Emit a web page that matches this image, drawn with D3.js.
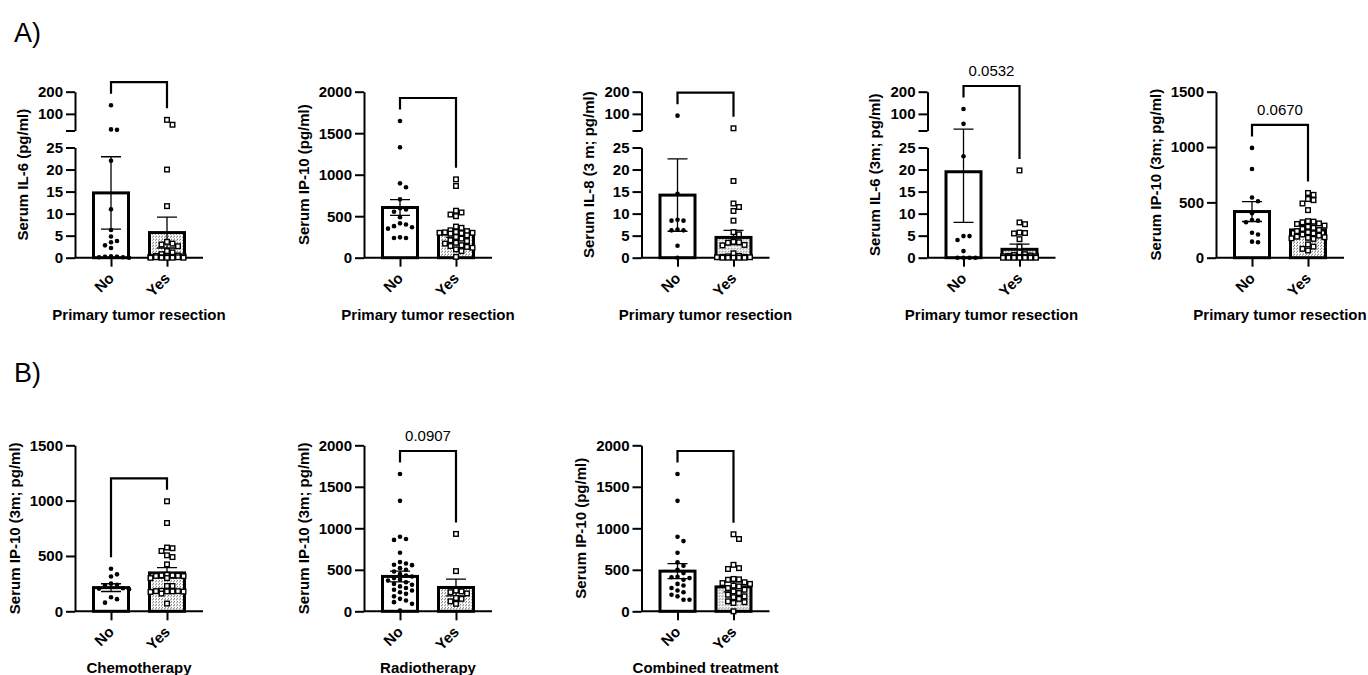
<!DOCTYPE html>
<meta charset="utf-8">
<style>
body { margin: 0; background: #fff; }
svg { font-family: "Liberation Sans", Arial, sans-serif; }
.axis text { font: bold 15px "Liberation Sans", Arial, sans-serif; fill: #000; }
.axis path, .axis line { fill: none; stroke: #000; stroke-width: 2px; }
.ylab, .xtitle { font: bold 15px "Liberation Sans", Arial, sans-serif; }
.pval { font: 15px "Liberation Sans", Arial, sans-serif; }
.bar { stroke: #000; stroke-width: 3px; }
.err { stroke: #000; stroke-width: 1.3px; fill: none; }
.bracket { stroke: #000; stroke-width: 2.2px; fill: none; }
</style>
<body>
<div id="chart"></div>
<script src="https://cdnjs.cloudflare.com/ajax/libs/d3/7.8.5/d3.min.js"></script>
<script>

// groups on every x axis
var groups = ["No", "Yes"];

// y tick values
var ticksBrokenLow = [0, 5, 10, 15, 20, 25];
var ticksBrokenHigh = [25, 100, 200];
var ticks2000 = [0, 500, 1000, 1500, 2000];
var ticks1500 = [0, 500, 1000, 1500];

// A) serum IL-6, primary tumor resection
var il6_no = [139, 30, 28, 22, 11, 6.3, 4.8, 3.8, 3.5, 2.8, 2.2, 0.3, 0.2, 0.2, 0.1, 0.1, 0];
var il6_yes = [73, 51, 20, 11.7, 3.6, 3.2, 3.0, 2.6, 1.5, 1.2, 0.8, 0.5, 0.4, 0.3, 0.3, 0.2, 0.2, 0.1, 0.1, 0.1, 0, 0, 0, 0, 0];
var il6_mean = [14.7, 5.7];
var il6_sem = [8.2, 3.5];

// serum IP-10
var ip10_no = [1647, 1330, 896, 848, 703, 595, 580, 554, 487, 414, 400, 380, 366, 350, 245, 237, 237];
var ip10_yes = [944, 864, 566, 545, 520, 500, 375, 360, 330, 320, 310, 305, 300, 300, 295, 290, 270, 250, 230, 210, 200, 180, 170, 150, 140, 130, 120, 100, 80, 10];
var ip10_mean = [605, 285];
var ip10_sem = [95, 40];

// serum IL-8 (3 m)
var il8m3_no = [92, 14.5, 8.6, 8.4, 8.4, 6.4, 6.2, 6.2, 2.7, 0];
var il8m3_yes = [35, 17.4, 12.3, 11.5, 10.6, 8.4, 5.8, 5.3, 3.6, 3.5, 3.4, 2.9, 2.8, 1.0, 0.4, 0.3, 0.2, 0.2, 0.1, 0.1, 0, 0, 0, 0, 0];
var il8m3_mean = [14.2, 4.6];
var il8m3_sem = [8.2, 1.6];

// serum IL-6 (3m)
var il6m3_no = [122, 55, 23, 4.9, 4.9, 4.0, 1.5, 0, 0, 0, 0];
var il6m3_yes = [19.8, 8.0, 7.6, 5.7, 5.6, 5.5, 4.2, 2.5, 1.2, 0.8, 0.6, 0.5, 0.4, 0.3, 0.3, 0.2, 0.2, 0.1, 0.1, 0.1, 0, 0, 0, 0, 0, 0, 0];
var il6m3_mean = [19.5, 1.9];
var il6m3_sem = [11.5, 1.2];

// serum IP-10 (3m)
var ip10m3_no = [992, 801, 544, 510, 402, 340, 335, 320, 225, 210, 145, 140];
var ip10m3_yes = [585, 568, 530, 520, 490, 430, 330, 326, 320, 310, 305, 290, 280, 270, 260, 250, 240, 230, 220, 210, 200, 190, 185, 180, 175, 170, 120, 100, 80, 65];
var ip10m3_mean = [417, 251];
var ip10m3_sem = [90, 42];

// B) chemotherapy, IP-10 (3m)
var chemo_no = [385, 334, 315, 250, 240, 230, 208, 205, 200, 127, 110, 78];
var chemo_yes = [994, 798, 576, 570, 545, 506, 490, 424, 330, 325, 325, 322, 320, 318, 300, 300, 229, 229, 185, 182, 182, 180, 180, 178, 175, 160, 70];
var chemo_mean = [214, 347];
var chemo_sem = [35, 47];

// radiotherapy, IP-10 (3m)
var radio_no = [1654, 1331, 899, 871, 860, 705, 593, 575, 560, 556, 520, 500, 480, 450, 430, 420, 400, 380, 370, 350, 330, 320, 300, 280, 260, 250, 230, 210, 180, 150, 130, 110, 90, 10];
var radio_yes = [932, 484, 250, 240, 230, 215, 160, 150, 120, 90];
var radio_mean = [420, 287];
var radio_sem = [65, 100];

// combined treatment, IP-10
var comb_no = [1654, 1331, 899, 846, 705, 590, 548, 500, 460, 415, 410, 400, 380, 330, 310, 280, 250, 230, 200, 180, 140, 140];
var comb_yes = [928, 871, 560, 520, 510, 390, 385, 380, 350, 340, 330, 310, 300, 280, 260, 240, 220, 200, 180, 170, 150, 120, 110, 100, 0];
var comb_mean = [484, 294];
var comb_sem = [90, 60];

var yLabels = ["Serum IL-6 (pg/ml)", "Serum IP-10 (pg/ml)", "Serum IL-8 (3 m; pg/ml)", "Serum IL-6 (3m; pg/ml)",
  "Serum IP-10 (3m; pg/ml)", "Serum IP-10 (3m; pg/ml)", "Serum IP-10 (3m; pg/ml)", "Serum IP-10 (pg/ml)"];
var xTitles = ["Primary tumor resection", "Primary tumor resection", "Primary tumor resection", "Primary tumor resection",
  "Primary tumor resection", "Chemotherapy", "Radiotherapy", "Combined treatment"];
var pValues = ["", "", "", "0.0532", "0.0670", "", "0.0907", ""];

var panels = [
  {pts: [il6_no, il6_yes], mean: il6_mean, sem: il6_sem, broken: true, x: 75, y: 91.7},
  {pts: [ip10_no, ip10_yes], mean: ip10_mean, sem: ip10_sem, ticks: ticks2000, x: 364, y: 91.7},
  {pts: [il8m3_no, il8m3_yes], mean: il8m3_mean, sem: il8m3_sem, broken: true, x: 641.5, y: 91.7},
  {pts: [il6m3_no, il6m3_yes], mean: il6m3_mean, sem: il6m3_sem, broken: true, x: 927.5, y: 91.7},
  {pts: [ip10m3_no, ip10m3_yes], mean: ip10m3_mean, sem: ip10m3_sem, ticks: ticks1500, x: 1216, y: 91.7},
  {pts: [chemo_no, chemo_yes], mean: chemo_mean, sem: chemo_sem, ticks: ticks1500, x: 75, y: 445.3},
  {pts: [radio_no, radio_yes], mean: radio_mean, sem: radio_sem, ticks: ticks2000, x: 364, y: 445.3},
  {pts: [comb_no, comb_yes], mean: comb_mean, sem: comb_sem, ticks: ticks2000, x: 641.5, y: 445.3}
];
panels.forEach(function(p, i) { p.ylab = yLabels[i]; p.xtitle = xTitles[i]; p.pval = pValues[i]; });

var width = 1368, height = 675,
    plotW = 128, plotH = 166, barW = 35;

var plain = function(d) { return String(d); };

var svg = d3.select("#chart").append("svg")
    .attr("width", width)
    .attr("height", height);

// light stipple for the "Yes" bars
var pat = svg.append("defs").append("pattern")
    .attr("id", "stip")
    .attr("width", 3).attr("height", 3)
    .attr("patternUnits", "userSpaceOnUse");
pat.append("rect").attr("width", 3).attr("height", 3).attr("fill", "#fff");
pat.append("rect").attr("x", 0).attr("y", 0).attr("width", 1).attr("height", 1).attr("fill", "#555");
pat.append("rect").attr("x", 2).attr("y", 1).attr("width", 1).attr("height", 1).attr("fill", "#777");

svg.append("text").attr("x", 14).attr("y", 42).style("font-size", "27px").text("A)");
svg.append("text").attr("x", 14).attr("y", 382).style("font-size", "27px").text("B)");

// spread points sideways so they don't sit on each other
function dodge(vals, yf, step, maxOff) {
  var placed = [];
  return vals.map(function(v) {
    var py = yf(v), best = null, bestD = -1;
    for (var k = 0; k * step <= maxOff; k++) {
      var cands = k === 0 ? [0] : [k * step, -k * step];
      for (var c = 0; c < cands.length; c++) {
        var dmin = Infinity;
        placed.forEach(function(q) {
          var d = Math.hypot(q.dx - cands[c], q.y - py);
          if (d < dmin) dmin = d;
        });
        if (dmin >= step * 0.95) { best = cands[c]; bestD = Infinity; break; }
        if (dmin > bestD) { bestD = dmin; best = cands[c]; }
      }
      if (bestD === Infinity) break;
    }
    var pt = {v: v, y: py, dx: best};
    placed.push(pt);
    return pt;
  });
}

panels.forEach(function(p) {
  var g = svg.append("g").attr("transform", "translate(" + p.x + "," + p.y + ")");

  var xs = d3.scalePoint().domain(groups).range([0, plotW]).padding(0.643);

  var yf;
  if (p.broken) {
    var lo = d3.scaleLinear().domain([0, 25]).range([plotH, plotH - 110.2]);
    var hi = d3.scaleLinear().domain([25, 200]).range([38.8, 0]);
    yf = function(v) { return v <= 25 ? lo(v) : hi(v); };
    g.append("g").attr("class", "axis yaxis")
      .call(d3.axisLeft(lo).tickValues(ticksBrokenLow).tickSize(9).tickPadding(3).tickSizeOuter(0).tickFormat(plain));
    g.append("g").attr("class", "axis yaxis")
      .call(d3.axisLeft(hi).tickValues(ticksBrokenHigh).tickSize(9).tickPadding(3).tickSizeOuter(0)
        .tickFormat(function(d) { return d === 25 ? "" : String(d); }));
  } else {
    var ys = d3.scaleLinear().domain([0, d3.max(p.ticks)]).range([plotH, 0]);
    yf = ys;
    g.append("g").attr("class", "axis yaxis")
      .call(d3.axisLeft(ys).tickValues(p.ticks).tickSize(9).tickPadding(3).tickSizeOuter(0).tickFormat(plain));
  }

  // x axis with rotated group labels
  var xg = g.append("g").attr("class", "axis")
      .attr("transform", "translate(0," + plotH + ")")
      .call(d3.axisBottom(xs).tickSize(9).tickSizeOuter(0));
  xg.select(".domain").attr("d", "M0,0H" + plotW);
  xg.selectAll("text")
      .attr("y", 0).attr("dy", 0)
      .attr("transform", "translate(3.5,21.5) rotate(-45)")
      .style("text-anchor", "end");

  // y label left of tick labels
  var left = d3.min(g.selectAll(".yaxis").nodes(), function(n) { return n.getBBox().x; });
  g.append("text").attr("class", "ylab")
      .attr("transform", "translate(" + (left - 10) + "," + (plotH / 2) + ") rotate(-90)")
      .attr("text-anchor", "middle")
      .text(p.ylab);

  g.append("text").attr("class", "xtitle")
      .attr("x", plotW / 2).attr("y", plotH + 62)
      .attr("text-anchor", "middle")
      .text(p.xtitle);

  // bars
  g.selectAll(".bar").data(groups).enter().append("rect")
      .attr("class", "bar")
      .attr("x", function(d) { return xs(d) - barW / 2; })
      .attr("y", function(d, i) { return yf(p.mean[i]); })
      .attr("width", barW)
      .attr("height", function(d, i) { return plotH - yf(p.mean[i]); })
      .attr("fill", function(d, i) { return i === 0 ? "#fff" : "url(#stip)"; });

  // mean +/- sem
  groups.forEach(function(gr, i) {
    var cx = xs(gr), y0 = yf(Math.max(0, p.mean[i] - p.sem[i])), y1 = yf(p.mean[i] + p.sem[i]);
    g.append("path").attr("class", "err")
      .attr("d", "M" + cx + "," + y0 + "V" + y1 + "M" + (cx - 10) + "," + y1 + "H" + (cx + 10) +
        "M" + (cx - 10) + "," + y0 + "H" + (cx + 10));
  });

  // individual values
  var tops = [];
  groups.forEach(function(gr, i) {
    var cx = xs(gr);
    var pts = dodge(p.pts[i], yf, i === 0 ? 6 : 5.5, 20);
    tops.push(Math.min(d3.min(pts, function(d) { return d.y; }), yf(p.mean[i] + p.sem[i])));
    if (i === 0) {
      g.selectAll(".dot" + i).data(pts).enter().append("circle")
          .attr("cx", function(d) { return cx + d.dx; })
          .attr("cy", function(d) { return d.y; })
          .attr("r", 2.3)
          .attr("fill", "#000");
    } else {
      g.selectAll(".sq" + i).data(pts).enter().append("rect")
          .attr("x", function(d) { return cx + d.dx - 2.3; })
          .attr("y", function(d) { return d.y - 2.3; })
          .attr("width", 4.6).attr("height", 4.6)
          .attr("fill", "#fff").attr("stroke", "#000").attr("stroke-width", 1.4);
    }
  });

  // comparison bracket
  var l0 = tops[0] - 11.5, l1 = tops[1] - 11.5, by = Math.min(l0, l1) - 11.5;
  var x0 = xs(groups[0]), x1 = xs(groups[1]);
  g.append("path").attr("class", "bracket")
      .attr("d", "M" + x0 + "," + l0 + "V" + by + "H" + x1 + "V" + l1);
  if (p.pval) {
    g.append("text").attr("class", "pval")
        .attr("x", (x0 + x1) / 2).attr("y", by - 10)
        .attr("text-anchor", "middle")
        .text(p.pval);
  }
});

</script>
